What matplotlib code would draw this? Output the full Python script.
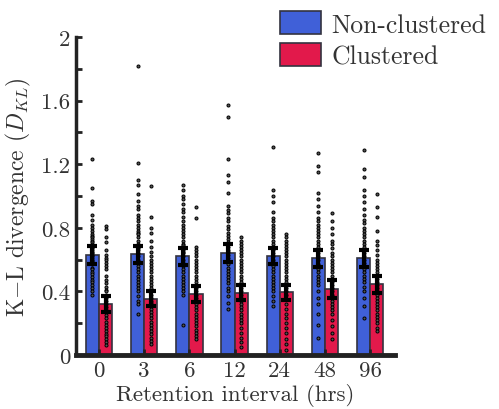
import matplotlib
matplotlib.use("Agg")
import matplotlib.pyplot as plt
import numpy as np
from matplotlib.patches import Patch

plt.rcParams['font.family'] = ['cmr10', 'DejaVu Serif']
plt.rcParams['mathtext.fontset'] = 'cm'
plt.rcParams['axes.formatter.use_mathtext'] = True

intervals = ['0', '3', '6', '12', '24', '48', '96']
mean_non = [0.627, 0.633, 0.620, 0.640, 0.620, 0.608, 0.608]
mean_clu = [0.323, 0.354, 0.384, 0.392, 0.394, 0.415, 0.445]
err_non = [0.057, 0.055, 0.055, 0.055, 0.050, 0.052, 0.052]
err_clu = [0.050, 0.048, 0.050, 0.048, 0.048, 0.055, 0.055]

pts_non = [
    [1.23, 1.05, 0.97, 0.95, 0.88, 0.85, 0.82, 0.80, 0.78, 0.76, 0.75, 0.74, 0.73, 0.72, 0.71, 0.70, 0.69, 0.68, 0.67, 0.66, 0.65, 0.64, 0.63, 0.62, 0.61, 0.60, 0.59, 0.58, 0.57, 0.55, 0.54, 0.52, 0.51, 0.49, 0.47, 0.46, 0.44, 0.42, 0.40, 0.38],
    [1.82, 1.21, 1.10, 1.07, 1.01, 0.97, 0.94, 0.92, 0.88, 0.86, 0.84, 0.82, 0.80, 0.78, 0.77, 0.76, 0.74, 0.72, 0.70, 0.69, 0.68, 0.67, 0.66, 0.64, 0.62, 0.60, 0.58, 0.56, 0.54, 0.52, 0.50, 0.48, 0.46, 0.44, 0.42, 0.40, 0.37, 0.34, 0.32, 0.26],
    [1.07, 1.04, 1.00, 0.98, 0.95, 0.92, 0.90, 0.87, 0.84, 0.82, 0.80, 0.78, 0.76, 0.74, 0.72, 0.70, 0.69, 0.68, 0.66, 0.65, 0.64, 0.62, 0.60, 0.58, 0.56, 0.54, 0.52, 0.50, 0.48, 0.46, 0.44, 0.42, 0.40, 0.38, 0.19],
    [1.57, 1.50, 1.23, 1.13, 1.09, 1.02, 0.94, 0.91, 0.89, 0.86, 0.84, 0.81, 0.79, 0.77, 0.75, 0.73, 0.71, 0.70, 0.68, 0.66, 0.65, 0.63, 0.61, 0.59, 0.57, 0.55, 0.53, 0.51, 0.49, 0.47, 0.45, 0.42, 0.40, 0.37, 0.33, 0.29],
    [1.31, 1.04, 1.00, 0.96, 0.90, 0.86, 0.84, 0.82, 0.80, 0.78, 0.76, 0.74, 0.72, 0.70, 0.68, 0.67, 0.66, 0.64, 0.62, 0.60, 0.58, 0.56, 0.54, 0.52, 0.50, 0.48, 0.46, 0.44, 0.42, 0.40, 0.37, 0.34, 0.31],
    [1.27, 1.19, 1.15, 1.02, 0.98, 0.94, 0.90, 0.86, 0.84, 0.82, 0.80, 0.78, 0.76, 0.74, 0.72, 0.70, 0.68, 0.66, 0.64, 0.62, 0.60, 0.57, 0.54, 0.52, 0.50, 0.48, 0.46, 0.44, 0.40, 0.36, 0.32, 0.26, 0.19, 0.11],
    [1.29, 1.17, 1.12, 1.04, 1.00, 0.96, 0.92, 0.88, 0.85, 0.83, 0.80, 0.78, 0.76, 0.74, 0.72, 0.70, 0.68, 0.66, 0.64, 0.62, 0.60, 0.58, 0.56, 0.54, 0.52, 0.50, 0.48, 0.46, 0.43, 0.40, 0.36, 0.31, 0.23],
]
pts_clu = [
    [0.81, 0.79, 0.74, 0.71, 0.66, 0.63, 0.61, 0.60, 0.58, 0.56, 0.54, 0.50, 0.47, 0.45, 0.43, 0.41, 0.40, 0.38, 0.36, 0.34, 0.32, 0.30, 0.28, 0.27, 0.25, 0.23, 0.21, 0.19, 0.17, 0.15, 0.13, 0.12, 0.10, 0.08, 0.06],
    [1.06, 0.87, 0.80, 0.77, 0.72, 0.68, 0.65, 0.62, 0.60, 0.58, 0.56, 0.54, 0.52, 0.50, 0.48, 0.46, 0.44, 0.42, 0.40, 0.38, 0.36, 0.34, 0.33, 0.31, 0.29, 0.27, 0.25, 0.23, 0.21, 0.19, 0.17, 0.15, 0.13, 0.11, 0.09, 0.07],
    [0.93, 0.86, 0.68, 0.66, 0.64, 0.62, 0.60, 0.58, 0.56, 0.54, 0.52, 0.50, 0.48, 0.46, 0.44, 0.42, 0.40, 0.38, 0.36, 0.34, 0.32, 0.30, 0.28, 0.26, 0.24, 0.22, 0.20, 0.18, 0.16, 0.14, 0.12, 0.10],
    [0.74, 0.72, 0.70, 0.68, 0.66, 0.64, 0.62, 0.60, 0.58, 0.56, 0.54, 0.52, 0.50, 0.48, 0.46, 0.44, 0.42, 0.40, 0.38, 0.36, 0.34, 0.32, 0.30, 0.28, 0.26, 0.24, 0.22, 0.20, 0.17, 0.14, 0.11, 0.08, 0.05],
    [0.76, 0.74, 0.72, 0.70, 0.68, 0.66, 0.64, 0.62, 0.60, 0.58, 0.56, 0.54, 0.52, 0.50, 0.48, 0.46, 0.44, 0.42, 0.40, 0.38, 0.35, 0.32, 0.29, 0.26, 0.23, 0.20, 0.17, 0.14, 0.10, 0.07, 0.03],
    [0.89, 0.84, 0.80, 0.76, 0.72, 0.70, 0.67, 0.64, 0.62, 0.60, 0.58, 0.56, 0.54, 0.52, 0.50, 0.48, 0.46, 0.44, 0.42, 0.40, 0.38, 0.36, 0.34, 0.32, 0.30, 0.28, 0.26, 0.22, 0.18, 0.14, 0.10],
    [1.01, 0.93, 0.87, 0.78, 0.72, 0.69, 0.66, 0.63, 0.60, 0.58, 0.56, 0.54, 0.52, 0.50, 0.48, 0.46, 0.44, 0.42, 0.40, 0.38, 0.36, 0.34, 0.32, 0.30, 0.28, 0.26, 0.24, 0.22, 0.20, 0.17, 0.15],
]

blue = '#4060D8'
red = '#E2194B'

fig = plt.figure(figsize=(4.99, 4.10), dpi=100)
ax = fig.add_axes([76/499, 1-356/410, (395-76)/499, (356-38)/410])

x = np.arange(len(intervals))
w = 0.29
xb = x - w/2
xr = x + w/2

ax.bar(xb, mean_non, width=w, color=blue, edgecolor='#333340', linewidth=1.2, zorder=1)
ax.bar(xr, mean_clu, width=w, color=red, edgecolor='#333340', linewidth=1.2, zorder=1)

for i in range(len(intervals)):
    ax.plot(np.full(len(pts_non[i]), xb[i]), pts_non[i], 'o', ms=2.2, mfc='#555555', mec='black', mew=0.7, zorder=2, ls='none')
    ax.plot(np.full(len(pts_clu[i]), xr[i]), pts_clu[i], 'o', ms=2.2, mfc='#555555', mec='black', mew=0.7, zorder=2, ls='none')

ax.errorbar(xb, mean_non, yerr=err_non, fmt='none', ecolor='black', elinewidth=3, capsize=3.5, capthick=3, zorder=3)
ax.errorbar(xr, mean_clu, yerr=err_clu, fmt='none', ecolor='black', elinewidth=3, capsize=3.5, capthick=3, zorder=3)

ax.set_xlim(-0.51, 6.55)
ax.set_ylim(0, 2)
ax.set_xticks(x)
ax.set_xticklabels(intervals)
ax.set_yticks(np.arange(0, 2.01, 0.2))
ax.set_yticklabels(['0', '', '0.4', '', '0.8', '', '1.2', '', '1.6', '', '2'])

for s in ['top', 'right']:
    ax.spines[s].set_visible(False)
ax.spines['left'].set_linewidth(2.5)
ax.spines['bottom'].set_linewidth(3.5)
ax.spines['left'].set_color('#222222')
ax.spines['bottom'].set_color('#222222')
ax.tick_params(direction='in', length=4, width=2, color='#222222', labelsize=16.5, labelcolor='#333333', pad=4)

ax.set_xlabel('Retention interval (hrs)', fontsize=16.5, color='#333333', labelpad=2)
ax.set_ylabel(r'K$-$L divergence ($D_{KL}$)', fontsize=17, color='#333333', labelpad=6)

handles = [Patch(facecolor=blue, edgecolor='#333340', linewidth=1.2, label='Non-clustered'),
           Patch(facecolor=red, edgecolor='#333340', linewidth=1.2, label='Clustered')]
leg = fig.legend(handles=handles, loc='upper left', bbox_to_anchor=(270/499, 1 - 2/410), frameon=False,
                 fontsize=18.5, handlelength=1.6, handleheight=1.0, handletextpad=0.4, labelspacing=0.25,
                 borderpad=0.4, borderaxespad=0.0)
for t in leg.get_texts():
    t.set_color('#333333')

fig.savefig('out.png', dpi=100)
